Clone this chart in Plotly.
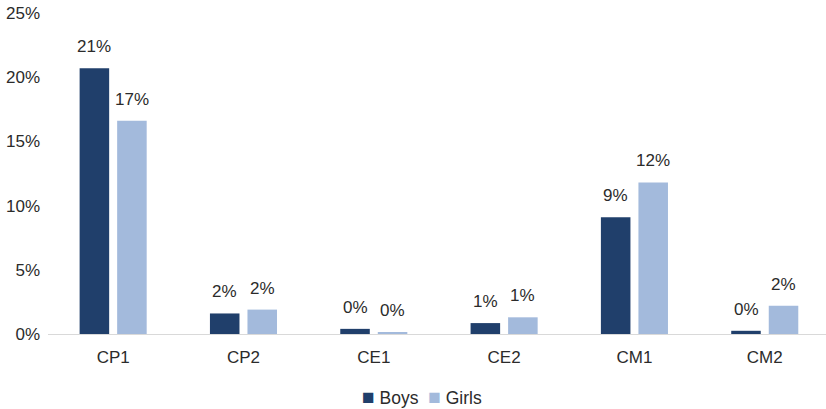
import plotly.graph_objects as go

categories = ["CP1", "CP2", "CE1", "CE2", "CM1", "CM2"]
boys = [0.207, 0.016, 0.004, 0.0085, 0.091, 0.0025]
girls = [0.166, 0.019, 0.0015, 0.013, 0.118, 0.022]

dark = "#203F6B"
light = "#A3BADC"
txt = "#2B2B2B"

fig = go.Figure()

fig.add_trace(go.Bar(x=categories, y=boys, name="Boys",
                     marker=dict(color=dark, line=dict(width=0))))
fig.add_trace(go.Bar(x=categories, y=girls, name="Girls",
                     marker=dict(color=light, line=dict(width=0))))

# value labels above each bar
for series, shift in ((boys, -18.75), (girls, 18.75)):
    for cat, v in zip(categories, series):
        fig.add_annotation(x=cat, y=v, text=f"{v:.0%}", showarrow=False,
                           xshift=shift, yshift=10, yanchor="bottom",
                           font=dict(size=17, color=txt))

# legend drawn as text
fig.add_annotation(
    xref="paper", yref="paper", x=0.481, y=-0.195, xanchor="center", yanchor="middle",
    showarrow=False, font=dict(size=17.5, color=txt),
    text=(f"<span style='color:{dark};font-size:21px'>■</span> Boys  "
          f"<span style='color:{light};font-size:21px'>■</span> Girls"),
)

fig.update_layout(
    width=826, height=409,
    margin=dict(l=48, r=0, t=13, b=75),
    plot_bgcolor="white", paper_bgcolor="white",
    font=dict(family="Liberation Sans, Arial", size=17, color=txt),
    barmode="group", bargap=0.424, bargroupgap=0.213,
    showlegend=False,
    xaxis=dict(range=[-0.5, 5.47], showline=True, linecolor="#D9D9D9", linewidth=1,
               ticks="", showgrid=False, tickfont=dict(size=17), automargin=False,
               ticklabelstandoff=8),
    yaxis=dict(range=[0, 0.25], tickformat=".0%", dtick=0.05, showgrid=False,
               zeroline=False, showline=False, ticks="", tickfont=dict(size=17),
               ticklabelstandoff=7, automargin=False),
)

fig.write_html("out.html", config={"displayModeBar": False},
               post_script="document.body.style.margin='0';")
